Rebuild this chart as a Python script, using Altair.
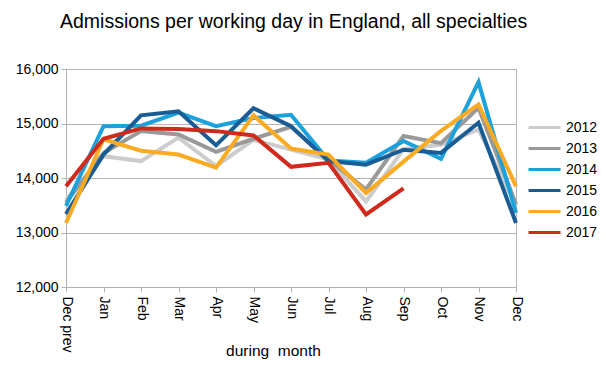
import altair as alt
import pandas as pd

months = ["Dec prev", "Jan", "Feb", "Mar", "Apr", "May", "Jun", "Jul", "Aug", "Sep", "Oct", "Nov", "Dec"]
years = ["2012", "2013", "2014", "2015", "2016", "2017"]

v2012 = [13600, 14400, 14310, 14740, 14220, 14700, 14520, 14340, 13570, 14530, 14610, 14890, 13490]
v2013 = [13550, 14460, 14860, 14800, 14480, 14720, 14940, 14340, 13790, 14770, 14640, 15290, 13520]
v2014 = [13490, 14950, 14960, 15200, 14950, 15100, 15160, 14320, 14280, 14680, 14350, 15760, 13360]
v2015 = [13340, 14430, 15150, 15225, 14600, 15280, 14950, 14310, 14245, 14520, 14460, 15015, 13175]
v2016 = [13175, 14710, 14500, 14430, 14190, 15150, 14540, 14430, 13725, 14300, 14865, 15350, 13846]
v2017 = [13850, 14720, 14910, 14900, 14860, 14780, 14205, 14280, 13330, 13810]

colors = ["#cccccc", "#999999", "#1ba1dc", "#1a5d94", "#fbab22", "#cf2a1c"]

series = [v2012, v2013, v2014, v2015, v2016, v2017]
rows = []
for y, vals in zip(years, series):
    for m, v in zip(months, vals):
        rows.append({"year": y, "month": m, "value": v})
df = pd.DataFrame(rows)

font = "Liberation Sans"

chart = alt.Chart(df).mark_line(strokeWidth=4, strokeJoin="miter").encode(
    x=alt.X("month:N", sort=months, scale=alt.Scale(padding=0),
            axis=alt.Axis(title="during\u00a0 month", labelAngle=90, labelAlign="left",
                          labelBaseline="middle", labelPadding=4,
                          titleX=207, titleY=68, titleAlign="center", titleBaseline="alphabetic",
                          tickSize=5, tickColor="#b3b3b3", domainColor="#b3b3b3",
                          grid=False, labelFontSize=14, titleFontSize=15.5,
                          titleFontWeight="normal", labelColor="black", titleColor="black")),
    y=alt.Y("value:Q", scale=alt.Scale(domain=[12000, 16000]),
            axis=alt.Axis(title=None, values=[12000, 13000, 14000, 15000, 16000], format=",d",
                          tickSize=5, tickColor="#b3b3b3", domainColor="#b3b3b3",
                          gridColor="#b3b3b3", labelFontSize=14, labelColor="black",
                          labelPadding=3)),
    color=alt.Color("year:N", scale=alt.Scale(domain=years, range=colors),
                    legend=alt.Legend(title=None, orient="none", legendX=461, legendY=48,
                                      symbolType="stroke", symbolSize=1024, symbolStrokeWidth=3,
                                      clipHeight=21, rowPadding=0, labelFontSize=14,
                                      labelColor="black", labelOffset=4)),
    order=alt.Order("year:N"),
).properties(
    width=450, height=218,
    title=alt.TitleParams("Admissions per working day in England, all specialties",
                          anchor="start", frame="group", dx=-6, fontSize=19.5, fontWeight="normal",
                          font=font, color="black", offset=30),
    autosize=alt.AutoSizeParams(type="none"),
    padding={"left": 58, "top": 61, "right": 82, "bottom": 72},
).configure(font=font).configure_view(stroke="#b3b3b3")

chart.save("out.html", embed_options={"renderer": "svg", "actions": False})
